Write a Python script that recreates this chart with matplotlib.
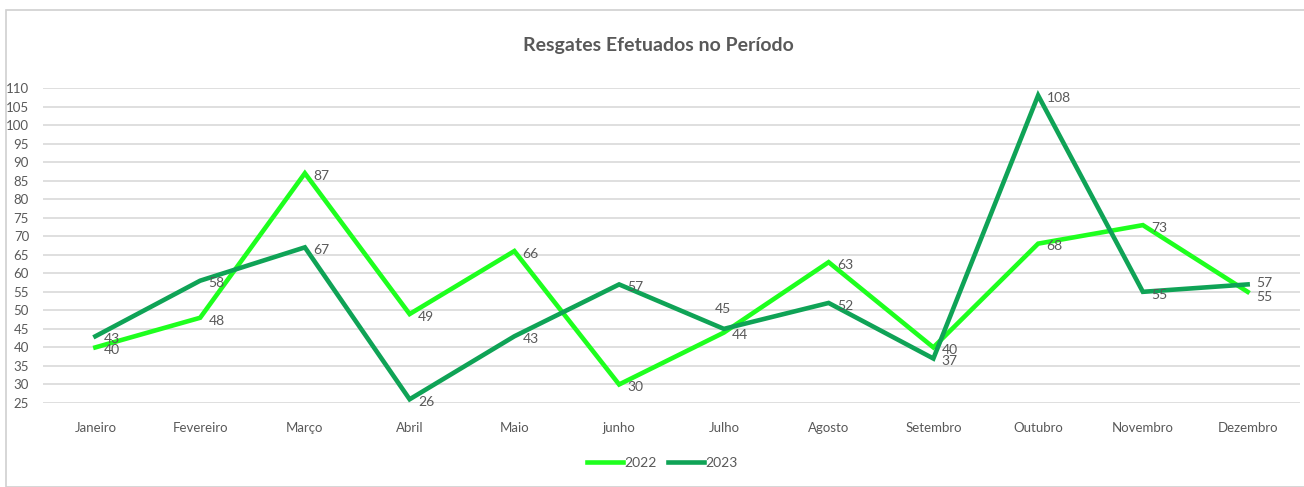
import matplotlib
matplotlib.use("Agg")
import matplotlib.pyplot as plt
from matplotlib.patches import Rectangle

months = ["Janeiro", "Fevereiro", "Março", "Abril", "Maio", "junho", "Julho",
          "Agosto", "Setembro", "Outubro", "Novembro", "Dezembro"]
vals_2022 = [40, 48, 87, 49, 66, 30, 44, 63, 40, 68, 73, 55]
vals_2023 = [43, 58, 67, 26, 43, 57, 45, 52, 37, 108, 55, 57]
yticks = list(range(25, 111, 5))

c2022 = "#1EFF1E"
c2023 = "#0FA356"
txt = "#595959"
FAM = ["Lato", "DejaVu Sans"]

W, H = 1304, 487
fig = plt.figure(figsize=(W / 100, H / 100), dpi=100)
fig.patch.set_facecolor("white")

# chart border
fig.patches.append(Rectangle((6 / W, 0), 1.2, (H - 10) / H, transform=fig.transFigure,
                             fill=False, edgecolor="#D0D0D0", linewidth=1.2))

ax = fig.add_axes([43 / W, (H - 403) / H, (1300 - 43) / W, (403 - 88) / H])
x = list(range(len(months)))
ax.plot(x, vals_2022, color=c2022, lw=3.3, solid_joinstyle="miter", label="2022", zorder=3)
ax.plot(x, vals_2023, color=c2023, lw=3.3, solid_joinstyle="miter", label="2023", zorder=3)

ax.set_xlim(-0.5, len(months) - 0.5)
ax.set_ylim(25, 110)
ax.set_yticks(yticks)
ax.set_xticks(x)
ax.set_xticklabels(months)
ax.grid(axis="y", color="#D9D9D9", lw=1.2, zorder=0)
for s in ax.spines.values():
    s.set_visible(False)
ax.tick_params(length=0, labelsize=9.5, colors=txt)
ax.tick_params(axis="x", pad=14)
ax.tick_params(axis="y", pad=10)
for lbl in ax.get_xticklabels() + ax.get_yticklabels():
    lbl.set_family(FAM)

offsets = {(1, 6): (-1, 14, "center"), (1, 11): (6, 1, "left"), (0, 11): (6, -4, "left")}
for si, vals in enumerate((vals_2022, vals_2023)):
    for i, v in enumerate(vals):
        dx, dy, ha = offsets.get((si, i), (6, -2, "left"))
        ax.annotate(str(v), (i, v), xytext=(dx, dy), textcoords="offset points",
                    ha=ha, va="center", fontsize=10, color=txt, family=FAM, zorder=4)

fig.text(658 / W, 1 - 46 / H, "Resgates Efetuados no Período", ha="center", va="center",
         fontsize=14, color=txt, family=FAM, fontweight="bold")

fig.legend(loc="center", bbox_to_anchor=(662 / W, 1 - 463 / H), ncol=2, frameon=False,
           handlelength=2.6, handletextpad=0.1, columnspacing=0.8,
           labelcolor=txt, prop={"family": FAM, "size": 10})

fig.savefig("out.png", dpi=100, facecolor="white")
